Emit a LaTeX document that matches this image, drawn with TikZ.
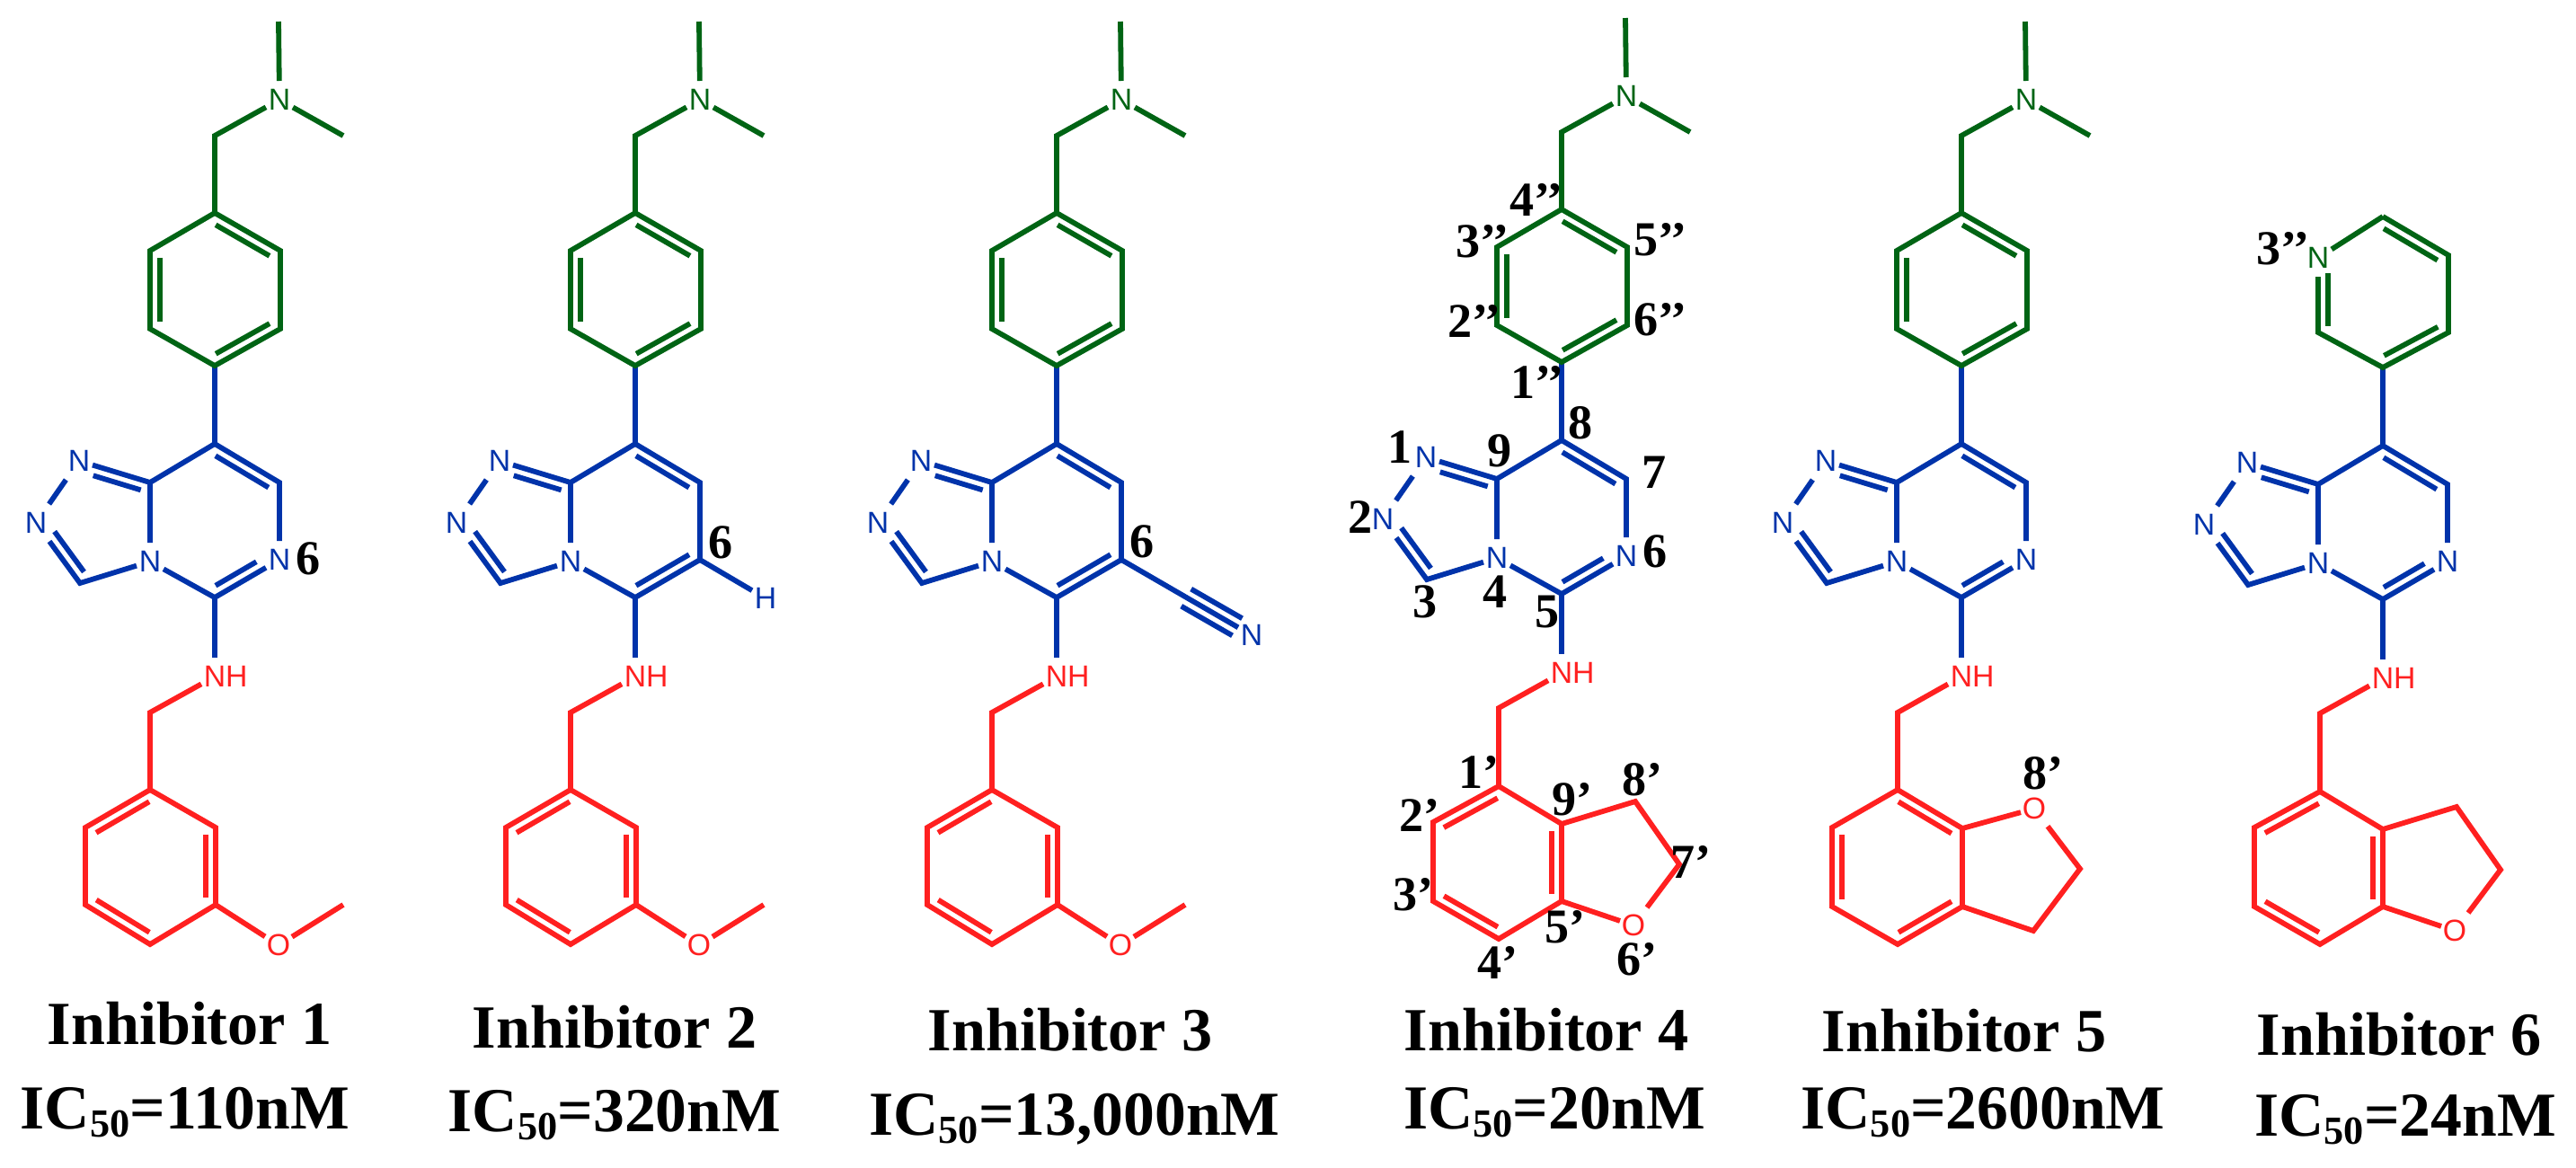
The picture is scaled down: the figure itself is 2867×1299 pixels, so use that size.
\documentclass[tikz,border=0pt]{standalone}
\usepackage{xcolor}
\usepackage{fontspec}
\setmainfont{Liberation Serif}
\newfontfamily\atomfont{Liberation Sans}
\usetikzlibrary{calc}
\definecolor{molgreen}{RGB}{0,100,20}
\definecolor{molblue}{RGB}{0,51,170}
\definecolor{molred}{RGB}{255,32,32}

% inner line of a double bond: [end fraction]{from}{to}{side}
\newcommand{\inbond}[4][.09]{\draw ($(#2)!.09!(#3)!.11cm!#4:(#3)$) -- ($(#3)!#1!(#2)!.11cm!-#4:(#2)$);}
\newcommand{\icvalue}[1]{IC\raisebox{-.14em}{\fontsize{12.6}{12.6}\selectfont 50}=#1nM}

% triazolo ring system: prefix, style and text of the atom at position 6, end of its double bond
\newcommand{\coreunit}[4]{
  \begin{scope}[color=molblue]
    \coordinate (#1c8) at (0,0);
    \coordinate (#1c9) at (-72,43);
    \coordinate (#1c7) at (72,43);
    \node[#2] (#1a6) at (72,129) {#3};
    \coordinate (#1c5) at (0,171);
    \coordinate (#1c3) at (-150,155);
    \coordinate (#1t1) at (0,-87);
    \node[atom] (#1n4) at (-72,131) {N};
    \node[atom] (#1n1) at (-151,19) {N};
    \node[atom] (#1n2) at (-199,88) {N};
    \node[atom, molred] (#1nh) at (0,259) {N\rlap{H}};
    \draw (#1c8) -- (#1c7) -- (#1a6) -- (#1c5) -- (#1n4) -- (#1c9) -- (#1c8);
    \draw (#1c9) -- (#1n1) -- (#1n2) -- (#1c3) -- (#1n4);
    \draw (#1t1) -- (#1c8);
    \draw (#1c5) -- (#1nh);
    \inbond{#1c8}{#1c7}{-90}
    \inbond[.24]{#1c9}{#1n1}{90}
    \inbond[.24]{#1c3}{#1n2}{-90}
    \inbond[#4]{#1c5}{#1a6}{90}
  \end{scope}
}

% dimethylaminomethyl phenyl, on top
\newcommand{\aminotop}[1]{
  \begin{scope}[color=molgreen]
    \coordinate (#1t4) at (0,-257);
    \coordinate (#1t5) at (73,-215);
    \coordinate (#1t6) at (73,-128);
    \coordinate (#1t2) at (-72,-128);
    \coordinate (#1t3) at (-72,-215);
    \coordinate (#1ch) at (0,-343);
    \coordinate (#1mea) at (71,-470);
    \coordinate (#1meb) at (143,-343);
    \node[atom] (#1nme) at (72,-383) {N};
    \draw (#1t4) -- (#1t5) -- (#1t6) -- (#1t1) -- (#1t2) -- (#1t3) -- cycle;
    \draw (#1t4) -- (#1ch) -- (#1nme) -- (#1meb);
    \draw (#1nme) -- (#1mea);
    \inbond{#1t4}{#1t5}{-90}
    \inbond{#1t6}{#1t1}{-90}
    \inbond{#1t3}{#1t2}{90}
  \end{scope}
}

% methoxybenzyl, at the bottom
\newcommand{\anisylunit}[1]{
  \begin{scope}[color=molred]
    \coordinate (#1ch2) at (-72,299);
    \coordinate (#1r1) at (-72,385);
    \coordinate (#1r2) at (1,427);
    \coordinate (#1r3) at (1,513);
    \coordinate (#1r4) at (-72,557);
    \coordinate (#1r5) at (-144,513);
    \coordinate (#1r6) at (-144,427);
    \coordinate (#1me) at (143,513);
    \node[atom] (#1o) at (71,558) {O};
    \draw (#1nh) -- (#1ch2) -- (#1r1);
    \draw (#1r1) -- (#1r2) -- (#1r3) -- (#1r4) -- (#1r5) -- (#1r6) -- cycle;
    \draw (#1r3) -- (#1o) -- (#1me);
    \inbond{#1r1}{#1r6}{90}
    \inbond{#1r2}{#1r3}{-90}
    \inbond{#1r5}{#1r4}{90}
  \end{scope}
}

% dihydrobenzofuran with the oxygen low, at the bottom
\newcommand{\furanunit}[1]{
  \begin{scope}[color=molred]
    \coordinate (#1ch2) at (-70,298);
    \coordinate (#1f1) at (-70,385);
    \coordinate (#1f9) at (0,427);
    \coordinate (#1f5) at (0,513);
    \coordinate (#1f4) at (-70,555);
    \coordinate (#1f3) at (-143,513);
    \coordinate (#1f2) at (-143,425);
    \coordinate (#1f8) at (82,402);
    \coordinate (#1f7) at (131,472);
    \node[atom] (#1o) at (80,540) {O};
    \draw (#1nh) -- (#1ch2) -- (#1f1);
    \draw (#1f1) -- (#1f9) -- (#1f5) -- (#1f4) -- (#1f3) -- (#1f2) -- cycle;
    \draw (#1f9) -- (#1f8) -- (#1f7) -- (#1o) -- (#1f5);
    \inbond{#1f1}{#1f2}{90}
    \inbond{#1f9}{#1f5}{-90}
    \inbond{#1f3}{#1f4}{90}
  \end{scope}
}

\begin{document}
\begin{tikzpicture}[
    x=0.01cm, y=-0.01cm,
    line width=0.058cm,
    atom/.style={minimum width=0.3cm, minimum height=0.42cm, inner sep=0pt, outer sep=0pt, font=\atomfont\fontsize{9.6}{9.6}\selectfont},
    vertex/.style={minimum size=0pt, inner sep=0pt, outer sep=0pt},
    numlabel/.style={inner sep=0pt, text=black, font=\bfseries\fontsize{15.4}{15.4}\selectfont},
    titlelabel/.style={anchor=base, inner sep=0pt, text=black, font=\bfseries\fontsize{19.4}{19.4}\selectfont},
    iclabel/.style={anchor=base, inner sep=0pt, text=black, font=\bfseries\fontsize{19.8}{19.8}\selectfont}
]
    \useasboundingbox (0,0) rectangle (2867,1299);

    % Inhibitor 1
    \begin{scope}[shift={(239,494)}]
        \coreunit{a}{atom}{N}{.28}
        \aminotop{a}
        \anisylunit{a}
    \end{scope}
    \node[numlabel] (sixa) at (343,622) {6};
    \node[titlelabel] (titlea) at (211,1162) {Inhibitor 1};
    \node[iclabel] (ica) at (206,1256) {\icvalue{110}};

    % Inhibitor 2
    \begin{scope}[shift={(707,494)}]
        \coreunit{b}{vertex}{}{.09}
        \aminotop{b}
        \anisylunit{b}
        \node[atom, molblue] (bh) at (145,172) {H};
        \draw[molblue] (ba6) -- (bh);
    \end{scope}
    \node[numlabel] (sixb) at (802,604) {6};
    \node[titlelabel] (titleb) at (684,1166) {Inhibitor 2};
    \node[iclabel] (icb) at (684,1259) {\icvalue{320}};

    % Inhibitor 3
    \begin{scope}[shift={(1176,494)}]
        \coreunit{c}{vertex}{}{.09}
        \aminotop{c}
        \anisylunit{c}
        \begin{scope}[color=molblue]
            \coordinate (ccn) at (137,167);
            \node[atom] (cnn) at (217,213) {N};
            \draw (ca6) -- (cnn);
            \inbond[.2]{ccn}{cnn}{90}
            \inbond[.2]{ccn}{cnn}{-90}
        \end{scope}
    \end{scope}
    \node[numlabel] (sixc) at (1271,603) {6};
    \node[titlelabel] (titlec) at (1191,1169) {Inhibitor 3};
    \node[iclabel] (icc) at (1196,1263) {\icvalue{13,000}};

    % Inhibitor 4
    \begin{scope}[shift={(1738,490)}]
        \coreunit{d}{atom}{N}{.28}
        \aminotop{d}
        \furanunit{d}
    \end{scope}
    \node[numlabel] (numa) at (1558,498) {1};
    \node[numlabel] (numb) at (1514,576) {2};
    \node[numlabel] (numc) at (1586,670) {3};
    \node[numlabel] (numd) at (1664,659) {4};
    \node[numlabel] (nume) at (1722,681) {5};
    \node[numlabel] (numf) at (1842,614) {6};
    \node[numlabel] (numg) at (1841,526) {7};
    \node[numlabel] (numh) at (1759,471) {8};
    \node[numlabel] (numi) at (1669,502) {9};
    \node[numlabel] (numap) at (1646,859) {1’};
    \node[numlabel] (numbp) at (1580,907) {2’};
    \node[numlabel] (numcp) at (1573,996) {3’};
    \node[numlabel] (numdp) at (1667,1071) {4’};
    \node[numlabel] (numep) at (1742,1032) {5’};
    \node[numlabel] (numfp) at (1822,1068) {6’};
    \node[numlabel] (numgp) at (1882,959) {7’};
    \node[numlabel] (numhp) at (1828,868) {8’};
    \node[numlabel] (numip) at (1750,890) {9’};
    \node[numlabel] (numapp) at (1711,425) {1’’};
    \node[numlabel] (numbpp) at (1641,357) {2’’};
    \node[numlabel] (numcpp) at (1650,269) {3’’};
    \node[numlabel] (numdpp) at (1710,222) {4’’};
    \node[numlabel] (numepp) at (1848,267) {5’’};
    \node[numlabel] (numfpp) at (1848,356) {6’’};
    \node[titlelabel] (titled) at (1721,1169) {Inhibitor 4};
    \node[iclabel] (icd) at (1730,1256) {\icvalue{20}};

    % Inhibitor 5
    \begin{scope}[shift={(2183,494)}]
        \coreunit{e}{atom}{N}{.28}
        \aminotop{e}
        \begin{scope}[color=molred]
            \coordinate (ech2) at (-71,299);
            \coordinate (es1) at (-71,385);
            \coordinate (es9) at (1,428);
            \coordinate (es5) at (1,515);
            \coordinate (es4) at (-71,557);
            \coordinate (es3) at (-144,515);
            \coordinate (es2) at (-144,427);
            \coordinate (es7) at (132,473);
            \coordinate (es8) at (80,542);
            \node[atom] (eo) at (81,406) {O};
            \draw (enh) -- (ech2) -- (es1);
            \draw (es1) -- (es9) -- (es5) -- (es4) -- (es3) -- (es2) -- cycle;
            \draw (es9) -- (eo) -- (es7) -- (es8) -- (es5);
            \inbond{es1}{es9}{-90}
            \inbond{es2}{es3}{90}
            \inbond{es4}{es5}{90}
        \end{scope}
    \end{scope}
    \node[numlabel] (numho) at (2274,861) {8’};
    \node[titlelabel] (titlee) at (2186,1170) {Inhibitor 5};
    \node[iclabel] (ice) at (2207,1256) {\icvalue{2600}};

    % Inhibitor 6
    \begin{scope}[shift={(2652,496)}]
        \coreunit{f}{atom}{N}{.28}
        \furanunit{f}
        \begin{scope}[color=molgreen]
            \coordinate (fp4) at (0,-255);
            \coordinate (fp5) at (73,-212);
            \coordinate (fp6) at (73,-126);
            \coordinate (fp2) at (-72,-126);
            \node[atom] (fp3) at (-72,-209) {N};
            \draw (fp4) -- (fp5) -- (fp6) -- (ft1) -- (fp2) -- (fp3) -- (fp4);
            \inbond{fp4}{fp5}{-90}
            \inbond{fp6}{ft1}{-90}
            \inbond[.2]{fp2}{fp3}{-90}
        \end{scope}
    \end{scope}
    \node[numlabel] (numcf) at (2541,277) {3’’};
    \node[titlelabel] (titlef) at (2670,1174) {Inhibitor 6};
    \node[iclabel] (icf) at (2677,1264) {\icvalue{24}};
\end{tikzpicture}
\end{document}
